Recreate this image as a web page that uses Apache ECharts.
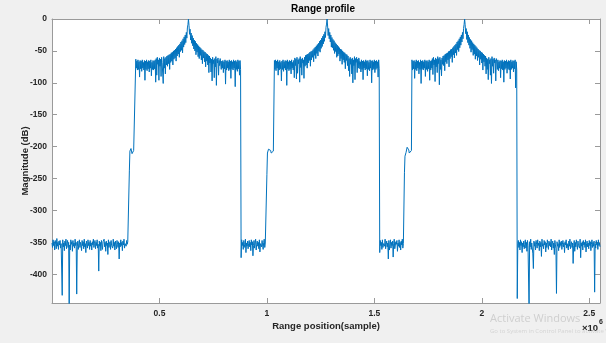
<!DOCTYPE html>
<html>
<head>
<meta charset="utf-8">
<title>Range profile</title>
<script src="https://cdn.jsdelivr.net/npm/echarts@6/dist/echarts.min.js"></script>
<style>
  html, body { margin: 0; padding: 0; background: #f0f0f0; }
  #chart { width: 606px; height: 343px; }
</style>
</head>
<body>
<div id="chart"></div>
<script>
// Decimated range profile magnitudes (dB). Each segment is stored with the
// sample spacing it was decimated at.

// Noise floor before the first echo (every 2500 samples)
const floorLeft = [
  -351,-358,-346,-355,-349,-362,-347,-353,-360,-344,-356,-350,
  -361,-348,-354,-347,-359,-352,-349,-433,-346,-357,-351,-363,
  -348,-355,-345,-360,-352,-347,-358,-350,-452,-354,-362,-346,
  -353,-349,-364,-347,-356,-351,-359,-345,-355,-350,-431,-357,
  -348,-361,-352,-346,-358,-350,-354,-363,-347,-355,-349,-360,
  -345,-357,-352,-366,-348,-353,-359,-346,-355,-350,-361,-347,
  -356,-351,-362,-349,-354,-345,-358,-352,-347,-360,-350,-355,
  -346,-359,-353,-395,-348,-356,-350,-363,-347,-354,-361,-349,
  -352,-345,-357,-350,-364,-348,-355,-351,-369,-346,-358,-353,
  -349,-361,-347,-355,-352,-359,-345,-356,-350,-362,-348,-354,
  -360,-347,-353,-358,-349,-376,-351,-357,-346,-355,-350,-363,
  -348,-354,-345,-359,-352,-350,-356,-347,-353,-349,-346,-351
];
// Leading shoulders (every 2500 samples)
const shoulder1 = [-238,-207,-206,-203,-204,-211,-212,-209,-206,-204,-203,-205];
const shoulder2 = [-244,-210,-209,-204,-202,-201,-203,-206,-210,-212,-211,-208,-207,-206];
const shoulder3 = [-241,-215,-214,-209,-206,-201,-200,-202,-205,-210,-212,-209,-207,-206];

// Echo plateaus with their compressed peaks (every 2500 samples)
const echo1 = [
  -63,-77,-66,-80,-64,-79,-67,-91,-65,-78,-66,-82,-64,-77,-68,-80,-65,-96,-66,-79,
  -64,-81,-67,-78,-65,-83,-66,-77,-64,-89,-68,-79,-65,-80,-66,-78,-64,-99,
  -62,-88,-60,-71,-64,-96,-61,-74,-63,-90,-60,-68,-65,-101,-59,-77,-62,-86,-60,-72,
  -58,-74,-57,-70,-56,-79,-55,-68,-53,-66,-52,-72,-50,-63,-49,-61,-47,-66,-45,-58,
  -43,-55,-41,-60,-39,-51,-36,-49,-34,-53,-31,-44,-28,-40,-25,-37,-21,-30,-14,-9,
  0,
  -10,-24,-16,-33,-22,-38,-26,-42,-30,-47,-33,-50,-35,-56,-38,-52,-40,-59,-42,-62,
  -44,-57,-46,-64,-48,-70,-49,-61,-51,-67,-52,-75,-54,-66,-55,-72,-57,-84,-58,-69,
  -61,-83,-63,-97,-60,-70,-64,-92,-62,-75,-59,-104,-63,-69,-61,-88,-65,-73,-62,
  -64,-79,-66,-77,-65,-84,-67,-78,-64,-102,-66,-80,-65,-77,-67,-81,-64,-79,-66,-93,
  -65,-78,-67,-80,-64,-77,-66,-106,-65,-79,-67,-82,-64,-78,-66,-88,-65,-79
];
const echo2 = [
  -65,-79,-64,-81,-66,-77,-64,-88,-67,-80,-65,-78,-68,-97,-66,-79,-64,-82,-67,-77,
  -65,-80,-66,-104,-64,-78,-67,-81,-65,-79,-66,-86,-64,-77,-68,-80,-65,-92,
  -61,-73,-63,-94,-60,-85,-64,-70,-62,-99,-59,-76,-63,-88,-61,-69,-64,-93,-60,-74,
  -57,-72,-56,-77,-55,-69,-54,-65,-52,-74,-51,-64,-50,-60,-48,-67,-46,-57,-44,-62,
  -42,-54,-40,-58,-38,-50,-35,-52,-33,-46,-30,-43,-27,-39,-24,-35,-20,-29,-13,-8,
  0,
  -11,-26,-15,-31,-21,-36,-25,-44,-29,-45,-32,-49,-34,-54,-37,-51,-39,-60,-41,-58,
  -43,-55,-45,-66,-47,-62,-48,-71,-50,-64,-52,-68,-53,-78,-55,-65,-56,-73,-58,-81,
  -62,-90,-60,-71,-63,-86,-61,-100,-64,-73,-59,-95,-62,-68,-60,-84,-63,-77,-61,
  -65,-78,-67,-83,-64,-79,-66,-95,-65,-77,-67,-80,-64,-78,-66,-89,-65,-79,-68,-81,
  -64,-77,-66,-100,-65,-80,-67,-78,-64,-84,-66,-79,-65,-77,-67,-91,-64,-78
];
const echo3 = [
  -64,-80,-66,-78,-65,-93,-67,-79,-64,-81,-66,-77,-65,-86,-68,-79,-64,-101,-66,-78,
  -65,-80,-67,-77,-64,-90,-66,-79,-65,-82,-67,-78,-64,-96,-66,-80,-65,-77,
  -62,-87,-60,-72,-64,-98,-61,-75,-63,-84,-59,-70,-62,-103,-60,-79,-64,-89,-61,-71,
  -58,-73,-57,-81,-55,-67,-54,-70,-53,-64,-51,-75,-50,-62,-48,-59,-47,-68,-45,-56,
  -43,-61,-41,-53,-39,-57,-36,-48,-34,-51,-31,-45,-28,-41,-25,-36,-21,-31,-15,-9,
  0,
  -9,-23,-15,-32,-20,-37,-25,-41,-29,-46,-32,-52,-34,-48,-37,-57,-39,-55,-41,-63,
  -43,-58,-45,-65,-47,-60,-49,-72,-50,-63,-52,-69,-53,-80,-55,-67,-57,-74,-58,-86,
  -61,-79,-63,-95,-60,-70,-64,-88,-62,-101,-59,-74,-63,-85,-61,-69,-64,-97,-62,
  -66,-79,-64,-81,-67,-77,-65,-92,-66,-78,-64,-80,-67,-99,-65,-79,-66,-77,-64,-85,
  -67,-78,-65,-80,-66,-94,-64,-79,-67,-77,-65,-83,-66,-78,-64,-108,-67,-80
];

// Noise floor between and after the echoes (every 2500 samples)
const floorMid1 = [
  -374,-346,-355,-350,-361,-347,-353,-358,-345,-366,-351,-356,
  -348,-360,-352,-347,-357,-350,-363,-346,-354,-349,-371,-355,
  -347,-359,-351,-345,-362,-353,-348,-356,-350,-360,-346,-365,
  -352,-349,-357,-347,-354,-361,-350,-345,-358,-351,-348,-353
];
const floorMid2 = [
  -366,-347,-355,-350,-361,-346,-358,-352,-349,-356,-345,-360,
  -353,-348,-357,-351,-376,-347,-362,-354,-346,-359,-350,-355,
  -348,-373,-352,-345,-360,-357,-349,-353,-347,-364,-351,-356,
  -346,-358,-350,-362,-348,-354,-345,-359,-352,-349
];
const floorRight = [
  -438,-352,-347,-358,-350,-362,-346,-355,-349,-366,-351,-357,
  -348,-360,-353,-346,-359,-350,-364,-347,-355,-352,-455,-349,
  -357,-345,-361,-351,-354,-368,-391,-348,-356,-350,-362,-347,
  -353,-359,-346,-355,-351,-363,-348,-357,-350,-372,-345,-356,
  -352,-360,-347,-354,-349,-365,-351,-358,-346,-353,-361,-348,
  -355,-350,-357,-345,-362,-352,-348,-359,-351,-369,-347,-354,
  -360,-430,-349,-356,-352,-363,-346,-358,-350,-355,-348,-361,
  -353,-347,-357,-351,-366,-349,-354,-346,-359,-352,-350,-362,
  -348,-356,-345,-360,-353,-349,-358,-351,-383,-355,-347,-364,
  -350,-357,-346,-353,-361,-348,-355,-352,-359,-345,-374,-351,
  -356,-349,-362,-347,-354,-350,-358,-346,-365,-352,-348,-357,
  -351,-360,-347,-355,-349,-363,-353,-346,-358,-350,-356,-348,
  -428,-352,-359,-347,-354,-350,-361,-346,-355,-351,-357
];

// Axis ticks
const xTickValues = [0.5, 1, 1.5, 2, 2.5];       // ×10^6 samples
const yTickValues = [0, -50, -100, -150, -200, -250, -300, -350, -400];
const X_MAX = 2.55e6;
const Y_MIN = -445;
const STEP = 2500;

// Segments in range order
const segments = [
  floorLeft, shoulder1, echo1, floorMid1, shoulder2, echo2,
  floorMid2, shoulder3, echo3, floorRight
];
const seriesData = [];
let sample = 0;
segments.forEach(values => {
  values.forEach(v => {
    seriesData.push([sample, v]);
    sample += STEP;
  });
});

const FONT = "'Liberation Sans', Arial, Helvetica, sans-serif";
const AXIS_COLOR = '#9a9a9a';
const TEXT_COLOR = '#262626';
const xTicksAbs = xTickValues.map(v => v * 1e6);

const chart = echarts.init(document.getElementById('chart'), null, { renderer: 'canvas' });

const frameAxis = {
  axisLine: { show: true, onZero: false, lineStyle: { color: AXIS_COLOR, width: 1 } },
  splitLine: { show: false }
};

chart.setOption({
  backgroundColor: '#f0f0f0',
  animation: false,
  title: {
    text: 'Range profile',
    left: 323, top: 4, padding: 0, textAlign: 'center',
    textStyle: { fontFamily: FONT, fontSize: 10, fontWeight: 'bold', color: '#000' }
  },
  grid: {
    left: 52, right: 6, top: 19, bottom: 40,
    show: true, backgroundColor: '#ffffff', borderWidth: 0
  },
  xAxis: [
    Object.assign({}, frameAxis, {
      type: 'value', position: 'bottom', min: 0, max: X_MAX,
      name: 'Range position(sample)', nameLocation: 'middle', nameGap: 18,
      nameMoveOverlap: false,
      nameTextStyle: { fontFamily: FONT, fontSize: 9.5, fontWeight: 'bold', color: TEXT_COLOR },
      axisTick: { show: true, inside: true, length: 5, customValues: xTicksAbs,
                  lineStyle: { color: AXIS_COLOR } },
      axisLabel: { show: true, customValues: xTicksAbs, margin: 6,
                   fontFamily: FONT, fontSize: 8.5, fontWeight: 'bold', color: TEXT_COLOR,
                   formatter: v => String(+(v / 1e6).toFixed(1)) }
    }),
    Object.assign({}, frameAxis, {
      type: 'value', position: 'top', min: 0, max: X_MAX,
      axisTick: { show: true, inside: true, length: 5, customValues: xTicksAbs,
                  lineStyle: { color: AXIS_COLOR } },
      axisLabel: { show: false }
    })
  ],
  yAxis: [
    Object.assign({}, frameAxis, {
      type: 'value', position: 'left', min: Y_MIN, max: 0,
      name: 'Magnitude (dB)', nameLocation: 'middle', nameGap: 22, nameRotate: 90,
      nameMoveOverlap: false,
      nameTextStyle: { fontFamily: FONT, fontSize: 9.5, fontWeight: 'bold', color: TEXT_COLOR },
      axisTick: { show: true, inside: true, length: 5, customValues: yTickValues,
                  lineStyle: { color: AXIS_COLOR } },
      axisLabel: { show: true, customValues: yTickValues, margin: 5,
                   fontFamily: FONT, fontSize: 8.5, fontWeight: 'bold', color: TEXT_COLOR }
    }),
    Object.assign({}, frameAxis, {
      type: 'value', position: 'right', min: Y_MIN, max: 0,
      axisTick: { show: true, inside: true, length: 5, customValues: yTickValues,
                  lineStyle: { color: AXIS_COLOR } },
      axisLabel: { show: false }
    })
  ],
  series: [{
    type: 'line',
    xAxisIndex: 0, yAxisIndex: 0,
    data: seriesData,
    showSymbol: false,
    sampling: null,
    clip: true,
    lineStyle: { color: '#0072BD', width: 1, join: 'bevel' }
  }],
  graphic: [
    { type: 'text', left: 582, top: 323,
      style: { text: '×10', fontFamily: FONT, fontSize: 9.5, fontWeight: 'bold', fill: TEXT_COLOR } },
    { type: 'text', left: 599, top: 319,
      style: { text: '6', fontFamily: FONT, fontSize: 7, fontWeight: 'bold', fill: TEXT_COLOR } },
    { type: 'text', left: 490, top: 313,
      style: { text: 'Activate Windows', fontFamily: "'Open Sans', 'Noto Sans', sans-serif",
               fontSize: 11, fill: '#cfcfcf' } },
    { type: 'text', left: 490, top: 328,
      style: { text: 'Go to System in Control Panel to activate Windows.',
               fontFamily: "'Open Sans', 'Noto Sans', sans-serif", fontSize: 6, fill: '#d4d4d4' } }
  ]
});
</script>
</body>
</html>
